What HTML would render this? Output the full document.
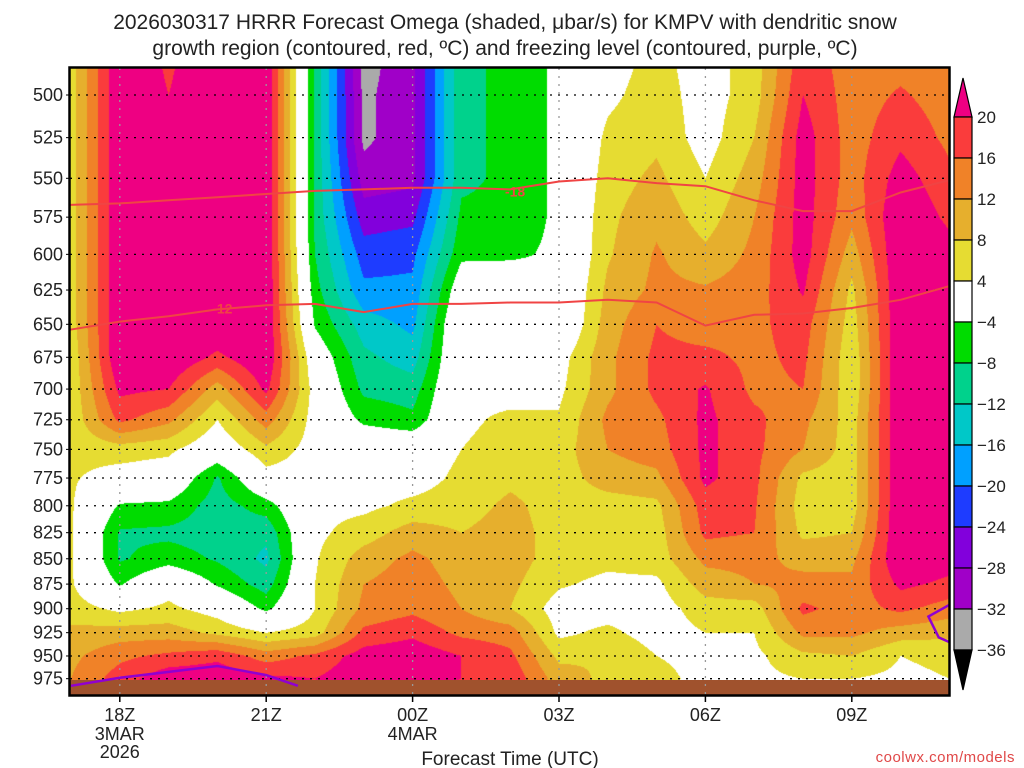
<!DOCTYPE html>
<html><head><meta charset="utf-8"><style>
body{margin:0;background:#fff;width:1024px;height:768px;overflow:hidden;position:relative;font-family:"Liberation Sans",sans-serif}
#cv{position:absolute;left:70px;top:68px}
#ov{position:absolute;left:0;top:0}
</style></head><body>
<canvas id="cv" width="879" height="627"></canvas>
<svg id="ov" width="1024" height="768">
<text x="505" y="29" text-anchor="middle" font-size="21" fill="#222">2026030317 HRRR Forecast Omega (shaded, μbar/s) for KMPV with dendritic snow</text>
<text x="505" y="55" text-anchor="middle" font-size="21" fill="#222">growth region (contoured, red, ºC) and freezing level (contoured, purple, ºC)</text>
<text x="510" y="765" text-anchor="middle" font-size="19" fill="#222">Forecast Time (UTC)</text>
<text x="1015" y="762" text-anchor="end" font-size="15" fill="#e04848" letter-spacing="0.5">coolwx.com/models</text>
<g id="g"></g>
</svg>
<script>
const hours=[17,18,19,20,21,22,23,24,25,26,27,28,29,30,31,32,33,34,35];
const levels=[475,500,525,550,575,600,625,650,675,700,725,750,775,800,825,850,875,900,925,950,975,1000];
const h17=[6,6,6,6,6,6,6,6,5,5,5,5,4.5,4.5,4.5,4.5,4.5,6,9,11,12,12];
const h18=[24,24,24,24,24,24,24,24,24,21,17,6,2,-4.5,-8.5,-8.5,-4.5,3,10,15,18,18];
const h19=[19,20,24,24,24,24,24,24,24,20,13,5,1,-5,-9,-6,2,5,10,17,23,22];
const h20=[24,24,24,24,24,24,24,24,19,10,4,0,-8.5,-10,-10,-8.5,-4.5,2,7,19,23,21];
const h21=[24,24,24,24,24,24,24,24,24,21,14,7,2,-6,-11,-13,-10,-5,4,14,21,18];
const h22=[-9,-9,-9,-9,-9,-8,-6.5,-4.5,0,2,2,2,2,3,3,3.5,4,4,6,17,20,18];
const h23=[-34,-33,-33,-30,-26,-22,-19,-14,-11,-9,-5,1,2,3,6,10,12,13,17,22,23,20];
const h00=[-29,-29,-29,-29,-25,-21,-19,-17,-14,-10,-7,1,2,5,10,13,14,15,19,23,22,19];
const h01=[-9,-9,-9,-9,-7,-5,0,3,3,3,3,4,5,6,8,10,11,12,15,20,20,17];
const h02=[-7,-7,-7,-7,-7,-5,1,2,2,2,5,6,7,9,10,10,9,8,14,17,19,14];
const h03=[-3,-3,-3,-3,-3,-3,-2.5,-2,2,3,4.5,6,6,6,6,6,4.5,2,3,7,10,7];
const h04=[2,3,5,6,7,7.5,9,10,11,11,13,12,10,6,5,5,3,2,5,8,7,5];
const h05=[5,6,7,9,11,12.5,13,16,17,17,15,14,11,7,6,6,3,2,2,4,5,3];
const h06=[2,2,2,4,6,9,12.5,14,17,20.5,21,21,21,18,17,13,10,6,4,3,3,2];
const h07=[6,6,8,10,12,13,14,15,15,15,17,17,17,16.5,16,13,12,6,4,3,3,2];
const h08=[18,20,22,22,22,22,20.5,18,17,16,13,12,7,6,7,11,13,17,13,7,4,3];
const h09=[14,14,14,14,13,10,7,6,5,5,6,6,6,6,8,11,13,14,13,8,4,3];
const h10=[14,16.5,19,22,24,24,24,24,24,24,24,24,24,24,24,24,21,17,10,4,3,3];
const h11=[13,14,15,17,19,22,22,22,22,22,22,22,22,22,22,22,19,14,9,5,4,3];
const omega=[h17,h18,h19,h20,h21,h22,h23,h00,h01,h02,h03,h04,h05,h06,h07,h08,h09,h10,h11];
const iso18Pres=[567,566,564,562,560,558,557,556,556,557,552,550,553,555,564,571,571,559,551];
const iso12Pres=[654,648,644,639,636,635,641,635,635,634,634,632,634,651,643,642,638,632,622];
const fzLeftHours=[17,18,20,21,21.65];
const fzLeftPres=[983,974,961,971,983];
const fzRightHours=[35,34.57,34.78,35];
const fzRightPres=[896,908,930,935];
const yTicks=[500,525,550,575,600,625,650,675,700,725,750,775,800,825,850,875,900,925,950,975];
const xTickHours=[18,21,24,27,30,33];
const xTickLabels=["18Z","21Z","00Z","03Z","06Z","09Z"];
const bounds=[20,16,12,8,4,-4,-8,-12,-16,-20,-24,-28,-32,-36];
const colors=["#ee0082","#fa3c3c","#f08228","#e6af2d","#e6dc32","#ffffff","#00dc00","#00d28c","#00c8c8","#00a0ff","#1e3cff","#8200dc","#a000c8","#aaaaaa","#000000"];

const X=h=>71+(h-17)*48.8;
const Y=p=>95+874*Math.log(p/500);
function colIdx(v){for(let i=0;i<bounds.length;i++){if(v>=bounds[i])return i;}return bounds.length;}
function hex(c){return [parseInt(c.substr(1,2),16),parseInt(c.substr(3,2),16),parseInt(c.substr(5,2),16)];}
const rgb=colors.map(hex);
const cv=document.getElementById('cv');const ctx=cv.getContext('2d');
const img=ctx.createImageData(879,627);
for(let py=0;py<627;py++){
  const y=68+py+0.5;const p=500*Math.exp((y-95)/874);
  let r=(p-levels[0])/25;r=Math.max(0,Math.min(levels.length-1.0001,r));
  const r0=Math.floor(r),fr=r-r0;
  for(let px=0;px<879;px++){
    const x=70+px+0.5;let c=(x-71)/48.8;c=Math.max(0,Math.min(hours.length-1.0001,c));
    const c0=Math.floor(c),fc=c-c0;
    const v=(omega[c0][r0]*(1-fc)+omega[c0+1][r0]*fc)*(1-fr)+(omega[c0][r0+1]*(1-fc)+omega[c0+1][r0+1]*fc)*fr;
    const k=rgb[colIdx(v)];const o=(py*879+px)*4;
    img.data[o]=k[0];img.data[o+1]=k[1];img.data[o+2]=k[2];img.data[o+3]=255;
  }
}
ctx.putImageData(img,0,0);

const NS="http://www.w3.org/2000/svg";const G=document.getElementById('g');
function mk(tag,attrs,parent){const e=document.createElementNS(NS,tag);for(const k in attrs)e.setAttribute(k,attrs[k]);(parent||G).appendChild(e);return e;}
let e=mk('rect',{x:70,y:680,width:879,height:16,fill:'#a0522d'});


yTicks.forEach(p=>{
  let l=mk('line',{x1:70,x2:949,y1:Y(p),y2:Y(p),stroke:'#000','stroke-width':1.3,'stroke-dasharray':'2,6'});
  
  
  let t=mk('text',{x:63,y:Y(p)+6,'text-anchor':'end','font-size':18,fill:'#222'});t.textContent=p;
  
  
  let tk=mk('line',{x1:66,x2:70,y1:Y(p),y2:Y(p),stroke:'#000'});
  
  
});
xTickHours.forEach((h,i)=>{
  let l=mk('line',{x1:X(h),x2:X(h),y1:68,y2:695,stroke:'#999','stroke-width':1.3,'stroke-dasharray':'2,6'});
  
  
  let tk=mk('line',{x1:X(h),x2:X(h),y1:696,y2:702,stroke:'#000','stroke-width':1.5});
  
  
  let t=mk('text',{x:X(h),y:721,'text-anchor':'middle','font-size':18,fill:'#222'});t.textContent=xTickLabels[i];
  
  
});
[[18,740,"3MAR"],[18,758,"2026"],[24,740,"4MAR"]].forEach(d=>{
  let t=mk('text',{x:X(d[0]),y:d[1],'text-anchor':'middle','font-size':18,fill:'#222'});t.textContent=d[2];
  
  
});
function poly(hs,ps){return hs.map((h,i)=>X(h).toFixed(1)+','+Y(ps[i]).toFixed(1)).join(' ');}
const edgeHours=hours.map(h=>h===17?16.98:(h===35?35.02:h));
let l18=mk('polyline',{points:poly(edgeHours,iso18Pres),fill:'none',stroke:'#f04444','stroke-width':2});


let l12=mk('polyline',{points:poly(edgeHours,iso12Pres),fill:'none',stroke:'#f04444','stroke-width':2});


let lb1=mk('text',{x:X(26.1),y:Y(iso18Pres[9])+7,'font-size':14,'font-weight':'bold',fill:'#f04444','text-anchor':'middle'});lb1.textContent='-18';


let lb2=mk('text',{x:X(20.1),y:Y(iso12Pres[3])+4,'font-size':14,'font-weight':'bold',fill:'#f04444','text-anchor':'middle'});lb2.textContent='-12';


let f1=mk('polyline',{points:poly(fzLeftHours,fzLeftPres),fill:'none',stroke:'#9000d0','stroke-width':2.5});


let f2=mk('polyline',{points:poly(fzRightHours,fzRightPres),fill:'none',stroke:'#9000d0','stroke-width':2.5});


let fr=mk('rect',{x:69.5,y:67.5,width:880,height:628,fill:'none',stroke:'#000','stroke-width':2.5});


const cbY=i=>117+i*41;
let ta=mk('polygon',{points:'954,117 972,117 963,78',fill:colors[0],stroke:'#000','stroke-width':1.2});


for(let i=0;i<bounds.length-1;i++){
  let r=mk('rect',{x:954,y:cbY(i),width:18,height:41,fill:colors[i+1],stroke:'#000','stroke-width':1.2});
  
  
}
const cbBot=cbY(bounds.length-1);
let ba=mk('polygon',{points:`954,${cbBot} 972,${cbBot} 963,${cbBot+40}`,fill:'#000',stroke:'#000','stroke-width':1.2});


bounds.forEach((b,i)=>{
  let t=mk('text',{x:977,y:cbY(i)+6,'font-size':17,fill:'#222'});t.textContent=b<0?'\u2212'+(-b):String(b);
  
  
});
</script>
</body></html>
